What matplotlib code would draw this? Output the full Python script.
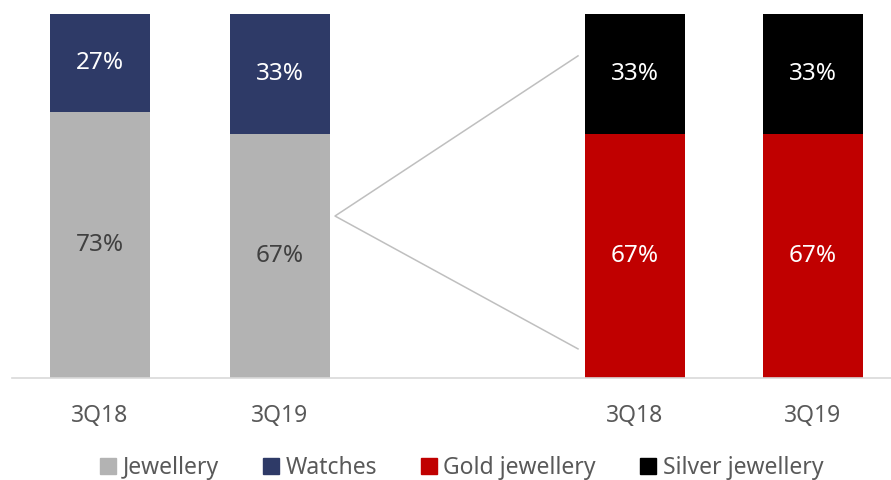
import numpy as np
import matplotlib.pyplot as plt
from matplotlib.patches import Patch

plt.rcParams['font.family'] = ['Noto Sans', 'DejaVu Sans']

periods = ["3Q18", "3Q19", "3Q18", "3Q19"]
jewellery = [73, 67]
watches = [27, 33]
gold = [67, 67]
silver = [33, 33]

c_jew = "#b3b3b3"
c_watch = "#2e3a67"
c_gold = "#c00000"
c_silver = "#000000"

# bar centres in pixel units of the figure width
pos = np.array([100, 280, 635, 813])
w = 100

fig = plt.figure(figsize=(8.91, 4.8), dpi=100)
ax = fig.add_axes([12 / 891, 102 / 480, 879 / 891, 364 / 480])
ax.set_xlim(12, 891)
ax.set_ylim(0, 100)

ax.bar(pos[:2], jewellery, w, color=c_jew)
ax.bar(pos[:2], watches, w, bottom=jewellery, color=c_watch)
ax.bar(pos[2:], gold, w, color=c_gold)
ax.bar(pos[2:], silver, w, bottom=gold, color=c_silver)

fs = 17.5
for x, j, wt in zip(pos[:2], jewellery, watches):
    ax.text(x, j / 2, f"{j}%", ha="center", va="center", fontsize=fs, color="#404040")
    ax.text(x, j + wt / 2, f"{wt}%", ha="center", va="center", fontsize=fs, color="white")
for x, g, s in zip(pos[2:], gold, silver):
    ax.text(x, g / 2, f"{g}%", ha="center", va="center", fontsize=fs, color="white")
    ax.text(x, g + s / 2, f"{s}%", ha="center", va="center", fontsize=fs, color="white")

# zoom connector
ax.plot([578, 335, 578], [88.5, 44.5, 8], color="#bfbfbf", lw=1.1)

for s in ["top", "right", "left"]:
    ax.spines[s].set_visible(False)
ax.spines["bottom"].set_color("#d9d9d9")
ax.spines["bottom"].set_linewidth(1.2)
ax.set_yticks([])
ax.set_xticks(pos)
ax.set_xticklabels(periods, fontsize=16.5, color="#595959")
ax.tick_params(axis="x", length=0, pad=19)

handles = [Patch(color=c_jew, label="Jewellery"), Patch(color=c_watch, label="Watches"),
           Patch(color=c_gold, label="Gold jewellery"), Patch(color=c_silver, label="Silver jewellery")]
leg = fig.legend(handles=handles, loc="center", bbox_to_anchor=(0.518, 12 / 480), ncol=4,
                 frameon=False, fontsize=16.5, handlelength=0.7, handleheight=0.7,
                 handletextpad=0.3, columnspacing=1.9)
for t in leg.get_texts():
    t.set_color("#595959")

fig.savefig("out.png", dpi=100)
